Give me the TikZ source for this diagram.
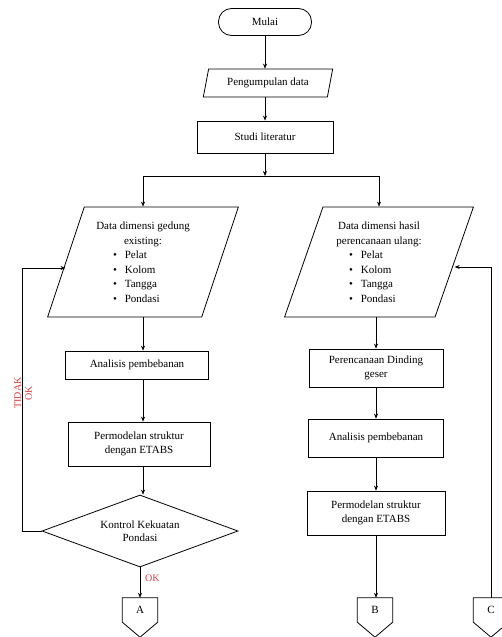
\documentclass[tikz,border=0pt]{standalone}
\usepackage{fontspec}
\setmainfont{Liberation Serif}
\usetikzlibrary{shapes.geometric,arrows.meta,calc}
\definecolor{lbl}{RGB}{215,60,60}
\newcommand{\bitem}[1]{\makebox[60pt][l]{\textbullet\hspace{8pt}#1}}
\begin{document}
\begin{tikzpicture}[x=1pt,y=-1pt,
  every node/.style={font=\fontsize{11}{13.5}\selectfont, inner sep=1pt},
  box/.style={draw, line width=0.8pt, align=center, rectangle},
  term/.style={draw, line width=0.8pt, rounded corners=13pt, minimum width=93pt, minimum height=27pt},
  para/.style={draw, line width=0.8pt, trapezium, trapezium left angle=70, trapezium right angle=110, trapezium stretches=true, align=center, inner sep=0pt},
  dec/.style={draw, line width=0.8pt, diamond, align=center, minimum width=196pt, minimum height=72pt, inner sep=0pt, aspect=2.7},
  offp/.style={rectangle, minimum width=35pt, minimum height=24pt, inner sep=0pt},
  arr/.style={line width=0.6pt, -{Stealth[length=5pt,width=4pt]}},
  ln/.style={line width=0.6pt},
  lab/.style={text=lbl, font=\fontsize{10}{11}\selectfont}
]
\useasboundingbox (0,0) rectangle (502,637);

\node[term] (mulai) at (265,22) {Mulai};
\node[para, minimum width=130pt, minimum height=28pt] (peng) at (268,83) {Pengumpulan data};
\node[box, minimum width=136pt, minimum height=32pt] (studi) at (265,137) {Studi literatur};

\node[para, minimum width=191pt, minimum height=110pt, font=\fontsize{11}{14.5}\selectfont] (lp) at (143,262)
  {Data dimensi gedung\\existing:\\\bitem{Pelat}\\\bitem{Kolom}\\\bitem{Tangga}\\\bitem{Pondasi}};
\node[para, minimum width=189pt, minimum height=110pt, font=\fontsize{11}{14.5}\selectfont] (rp) at (379,262)
  {Data dimensi hasil\\perencanaan ulang:\\\bitem{Pelat}\\\bitem{Kolom}\\\bitem{Tangga}\\\bitem{Pondasi}};

\node[box, minimum width=143pt, minimum height=28pt] (la) at (137,365) {Analisis pembebanan};
\node[box, minimum width=142pt, minimum height=44pt] (lm) at (139,444) {Permodelan struktur\\dengan ETABS};
\node[dec] (dia) at (140,531) {Kontrol Kekuatan\\Pondasi};
\node[offp] (A) at (140,610) {A};

\node[box, minimum width=134pt, minimum height=38pt] (rd) at (376,368) {Perencanaan Dinding\\geser};
\node[box, minimum width=135pt, minimum height=38pt] (ra) at (376,438) {Analisis pembebanan};
\node[box, minimum width=138pt, minimum height=44pt] (rm) at (376,513) {Permodelan struktur\\dengan ETABS};
\node[offp] (B) at (375,610) {B};
\node[offp] (C) at (491,610) {C};

\foreach \n in {A,B,C}
  \draw[line width=0.8pt] (\n.north west) -- (\n.north east) -- (\n.south east)
    -- ([yshift=-15pt]\n.south) -- (\n.south west) -- cycle;

\coordinate (j) at (265,176);
\draw[arr] (mulai.south) -- (mulai.south |- peng.north);
\draw[arr] (mulai.south |- peng.south) -- (studi.north);
\draw[arr] (studi.south) -- (j);
\draw[ln] (lp.north |- j) -- (rp.north |- j);
\draw[arr] (lp.north |- j) -- (lp.north);
\draw[arr] (rp.north |- j) -- (rp.north);

\draw[arr] (lp.south) -- (lp.south |- la.north);
\draw[arr] (lp.south |- la.south) -- (lp.south |- lm.north);
\draw[arr] (lp.south |- lm.south) -- (lp.south |- dia.north);
\draw[arr] (dia.south) -- (A.north);
\node[lab, anchor=west] (ok) at (144,578) {OK};
\draw[arr] (dia.west) -- ++(-19,0) |- ([yshift=-6pt]lp.west);
\node[lab, rotate=90, align=center, font=\fontsize{10}{11}\selectfont] (tidak) at (23,393) {TIDAK\\OK};

\draw[arr] (rd.north |- rp.south) -- (rd.north);
\draw[arr] (rd.south) -- (ra.north);
\draw[arr] (ra.south) -- (rm.north);
\draw[arr] (rm.south) -- (rm.south |- B.north);
\draw[arr] (C.north) |- ([yshift=-5pt]rp.east);
\end{tikzpicture}
\end{document}
